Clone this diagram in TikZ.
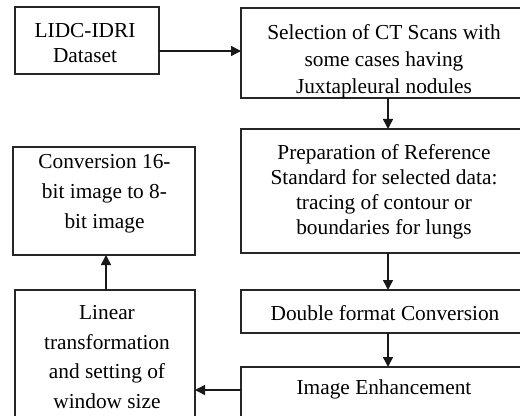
\documentclass[tikz,border=0pt]{standalone}
\usepackage{fontspec}
\setmainfont{Liberation Serif}
\usetikzlibrary{arrows.meta,calc}
\begin{document}
\begin{tikzpicture}[x=0.75pt,y=-0.75pt,
  box/.style={draw=black!85,line width=1.1pt,inner sep=0pt,outer sep=0pt},
  txt/.style={inner sep=0pt,outer sep=0pt,align=center},
  ls/.style={font=\fontsize{16}{#1}\selectfont},
  arr/.style={draw=black!90,line width=1.1pt,-{Triangle[length=7.5pt,width=7.5pt]}}]
\useasboundingbox (0,0) rectangle (520,416);
\clip (0,0) rectangle (520,416);
\fill[white] (0,0) rectangle (520,416);
% boxes
\node[box,minimum width=108pt,minimum height=50.25pt] (A) at (87,40.5) {};
\node[box,minimum width=214.5pt,minimum height=67.5pt] (B) at (384,53) {};
\node[box,minimum width=214.5pt,minimum height=93pt] (C) at (384,191) {};
\node[box,minimum width=136.5pt,minimum height=81pt] (D) at (104,201) {};
\node[box,minimum width=214.5pt,minimum height=32.25pt] (F) at (384,311.5) {};
\node[box,minimum width=214.5pt,minimum height=45pt] (G) at (384,397) {};
\node[box,minimum width=135pt,minimum height=105pt] (E) at (105,360) {};
% texts
\node[txt,ls=18.75pt] (At) at (85,43) {LIDC-IDRI\\Dataset};
\node[txt,ls=20.25pt] (Bt) at (384,61) {Selection of CT Scans with\\some cases having\\Juxtapleural nodules};
\node[txt,ls=18.75pt] (Ct) at (384,191.5) {Preparation of Reference\\Standard for selected data:\\tracing of contour or\\boundaries for lungs};
\node[txt,ls=22.5pt] (Dt) at (104.5,194) {Conversion 16-\\bit image to 8-\\bit image};
\node[txt,ls=22.25pt] (Et) at (107,357) {Linear\\transformation\\and setting of\\window size};
\node[txt,ls=18pt] (Ft) at (385,312.6) {Double format Conversion};
\node[txt,ls=18pt] (Gt) at (384,389) {Image Enhancement};
% connectors
\coordinate (ab) at (0,51);
\coordinate (ge) at (0,390);
\draw[arr] (A.east |- ab) -- (B.west |- ab);
\draw[arr] ([xshift=3pt]B.south) -- ([xshift=3pt]C.north);
\draw[arr] ([xshift=3pt]C.south) -- ([xshift=3pt]F.north);
\draw[arr] ([xshift=3pt]F.south) -- ([xshift=3pt]G.north);
\draw[arr] (G.west |- ge) -- (E.east |- ge);
\draw[arr] ([xshift=0.75pt]E.north) -- ([xshift=0.75pt]E.north |- D.south);
\end{tikzpicture}
\end{document}
